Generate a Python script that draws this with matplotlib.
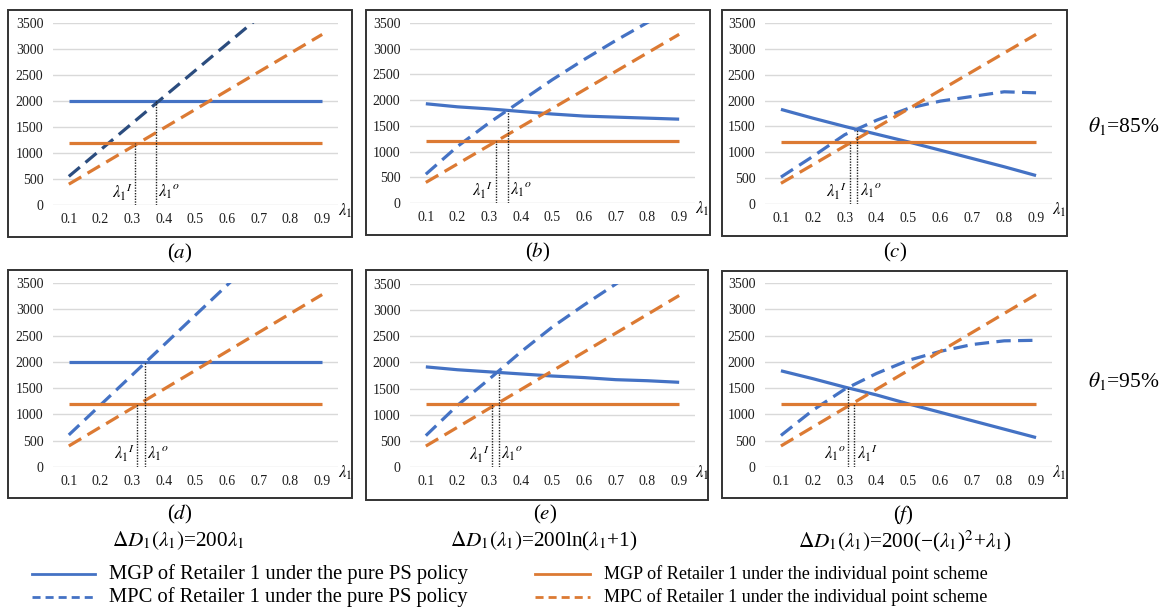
import matplotlib
matplotlib.use('Agg')
import matplotlib.pyplot as plt
from matplotlib.patches import Rectangle
from matplotlib.lines import Line2D

plt.rcParams['font.family'] = ['Liberation Serif', 'DejaVu Serif']
plt.rcParams['mathtext.fontset'] = 'stix'

# lambda_1 categories
lam = [0.1, 0.2, 0.3, 0.4, 0.5, 0.6, 0.7, 0.8, 0.9]
lam_ticks = ['0.1', '0.2', '0.3', '0.4', '0.5', '0.6', '0.7', '0.8', '0.9']

# individual point scheme (same in every panel)
mgp_ind = [1200, 1200, 1200, 1200, 1200, 1200, 1200, 1200, 1200]
mpc_ind = [400, 760, 1120, 1480, 1840, 2200, 2560, 2920, 3280]

# pure PS policy, one pair per panel
mgp_ps_a = [2000, 2000, 2000, 2000, 2000, 2000, 2000, 2000, 2000]
mpc_ps_a = [550, 1060, 1570, 2080, 2590, 3100, 3610, 4120, 4630]
mgp_ps_b = [1930, 1870, 1830, 1780, 1730, 1690, 1670, 1650, 1630]
mpc_ps_b = [560, 1100, 1560, 1980, 2400, 2790, 3160, 3510, 3850]
mgp_ps_c = [1830, 1660, 1500, 1350, 1200, 1040, 880, 720, 550]
mpc_ps_c = [520, 920, 1340, 1620, 1850, 1990, 2080, 2170, 2150]
mgp_ps_d = [2000, 2000, 2000, 2000, 2000, 2000, 2000, 2000, 2000]
mpc_ps_d = [610, 1180, 1750, 2320, 2890, 3460, 4030, 4600, 5170]
mgp_ps_e = [1915, 1860, 1820, 1780, 1740, 1710, 1670, 1650, 1620]
mpc_ps_e = [600, 1180, 1680, 2200, 2680, 3100, 3500, 3900, 4280]
mgp_ps_f = [1830, 1680, 1520, 1370, 1200, 1040, 880, 720, 560]
mpc_ps_f = [600, 1080, 1480, 1780, 2030, 2200, 2330, 2400, 2410]

# threshold points (lambda_1^I, lambda_1^o) and heights of the dotted drop lines
lam_I = [0.31, 0.32, 0.315, 0.315, 0.31, 0.33]
lam_o = [0.375, 0.36, 0.34, 0.34, 0.33, 0.31]
top_I = [1200, 1200, 1200, 1200, 1200, 1200]
top_o = [2000, 1790, 1440, 2000, 1800, 1500]

panel_tags = ['a', 'b', 'c', 'd', 'e', 'f']
formulas = [r'$\Delta D_1(\lambda_1)$=200$\lambda_1$',
            r'$\Delta D_1(\lambda_1)$=200ln($\lambda_1$+1)',
            r'$\Delta D_1(\lambda_1)$=200(−($\lambda_1$)$^2$+$\lambda_1$)']
theta_labels = [r'$\theta_1$=85%', r'$\theta_1$=95%']

mgp_ps = [mgp_ps_a, mgp_ps_b, mgp_ps_c, mgp_ps_d, mgp_ps_e, mgp_ps_f]
mpc_ps = [mpc_ps_a, mpc_ps_b, mpc_ps_c, mpc_ps_d, mpc_ps_e, mpc_ps_f]

BLUE = '#4472C4'
NAVY = '#2B4C7E'
ORANGE = '#DC7A33'
W, H = 1168, 613

fig = plt.figure(figsize=(W / 100, H / 100), dpi=100)


def fig_rect(x0, y0, x1, y1):
    # pixel box (top-left origin) -> figure fraction
    return [x0 / W, 1 - y1 / H, (x1 - x0) / W, (y1 - y0) / H]


boxes = [(8, 10, 352, 237), (366, 10, 710, 235), (722, 10, 1067, 236),
         (8, 270, 352, 498), (366, 270, 708, 500), (722, 271, 1067, 498)]
areas = [(53, 23, 338, 205), (410, 23, 695, 203), (765, 23, 1052, 204),
         (53, 283, 338, 467), (410, 284, 695, 467), (765, 283, 1052, 467)]
caption_pos = [(180, 253), (538, 252), (895, 252), (180, 514), (545, 514), (903, 515)]

for i in range(6):
    bx = boxes[i]
    fig.add_artist(Rectangle((bx[0] / W, 1 - bx[3] / H), (bx[2] - bx[0]) / W, (bx[3] - bx[1]) / H,
                             transform=fig.transFigure, fill=False, edgecolor='#333333', lw=1.4))

    ax = fig.add_axes(fig_rect(*areas[i]))
    ax.set_xlim(0.05, 0.95)
    ax.set_ylim(0, 3500)
    for s in ax.spines.values():
        s.set_visible(False)
    ax.set_yticks([0, 500, 1000, 1500, 2000, 2500, 3000, 3500])
    ax.set_xticks(lam)
    ax.set_xticklabels(lam_ticks)
    ax.tick_params(length=0, labelsize=10, colors='#1E1E1E')
    ax.tick_params(axis='y', pad=7)
    ax.tick_params(axis='x', pad=6)
    ax.grid(axis='y', color='#D9D9D9', lw=1.0)
    ax.set_axisbelow(True)

    blue_dash = NAVY if i == 0 else BLUE
    ax.plot(lam, mgp_ps[i], color=BLUE, lw=2.3, solid_capstyle='butt')
    ax.plot(lam, mpc_ps[i], color=blue_dash, lw=2.3, dashes=(4.5, 2.3))
    ax.plot(lam, mgp_ind, color=ORANGE, lw=2.3, solid_capstyle='butt')
    ax.plot(lam, mpc_ind, color=ORANGE, lw=2.3, dashes=(4.5, 2.3))

    # dotted drop lines at the thresholds
    for xv, tv in [(lam_I[i], top_I[i]), (lam_o[i], top_o[i])]:
        ax.plot([xv, xv], [0, tv], color='#222222', lw=1.0, ls=(0, (1, 1)))

    lab_I = r'$\lambda_1{}^{I}$'
    lab_o = r'$\lambda_1{}^{o}$'
    if lam_I[i] < lam_o[i]:
        left, right = (lam_I[i], lab_I), (lam_o[i], lab_o)
    else:
        left, right = (lam_o[i], lab_o), (lam_I[i], lab_I)
    ax.text(left[0] - 0.007, 250, left[1], ha='right', va='center', fontsize=12)
    ax.text(right[0] + 0.007, 250, right[1], ha='left', va='center', fontsize=12)

    ax.text(1.025, -0.03, r'$\lambda_1$', transform=ax.transAxes, ha='center', va='center', fontsize=12)

    cx, cy = caption_pos[i]
    fig.text(cx / W, 1 - cy / H, '($%s$)' % panel_tags[i], ha='center', va='center', fontsize=15)

# formulas under bottom row
for (cx, cy), f in zip([(178, 541), (544, 541), (905, 541)], formulas):
    fig.text(cx / W, 1 - cy / H, f, ha='center', va='center', fontsize=15.3)

# theta labels at right
fig.text(1124 / W, 1 - 126 / H, theta_labels[0], ha='center', va='center', fontsize=15.5)
fig.text(1124 / W, 1 - 381 / H, theta_labels[1], ha='center', va='center', fontsize=15.5)

# legend drawn by hand
legend_items = [
    (32, 95, 574, BLUE, None, 'MGP of Retailer 1 under the pure PS policy', 14.8),
    (32, 95, 597, BLUE, (2.9, 1.8), 'MPC of Retailer 1 under the pure PS policy', 14.8),
    (535, 590, 574, ORANGE, None, 'MGP of Retailer 1 under the individual point scheme', 13.1),
    (535, 590, 597, ORANGE, (2.9, 1.8), 'MPC of Retailer 1 under the individual point scheme', 13.1),
]
for x0, x1, y, col, dash, txt, fs in legend_items:
    ln = Line2D([x0 / W, x1 / W], [1 - y / H, 1 - y / H], transform=fig.transFigure, color=col, lw=2)
    if dash:
        ln.set_dashes(dash)
    fig.add_artist(ln)
    fig.text((x1 + 14) / W, 1 - y / H, txt, ha='left', va='center', fontsize=fs)

plt.savefig('out.png', dpi=100)
